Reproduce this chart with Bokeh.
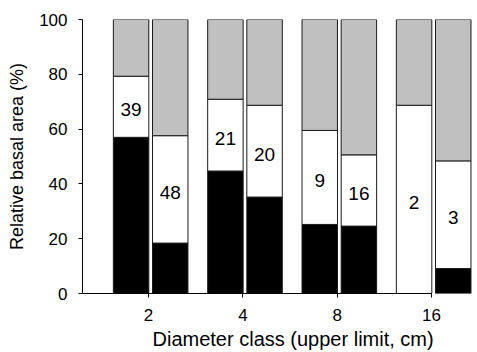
from bokeh.plotting import figure
from bokeh.models import Range1d, ColumnDataSource, FixedTicker, Title
from bokeh.embed import file_html
from bokeh.resources import INLINE
from bokeh.core.properties import value

# Diameter classes (upper limit, cm)
classes = ["2", "4", "8", "16"]

# Two stacked bars per class: black (bottom), white (middle), grey (rest to 100 %)
black_a = [57.0, 44.7, 25.2, 0.0]
white_a = [22.3, 26.2, 34.3, 68.7]
black_b = [18.4, 35.2, 24.6, 9.1]
white_b = [39.2, 33.5, 26.0, 39.3]

# Numbers printed inside the white segments
labels_a = ["39", "21", "9", "2"]
labels_b = ["48", "20", "16", "3"]

FONT = "Liberation Sans"
BAR_W = 0.376
OFF_A = -0.185
OFF_B = 0.230

p = figure(width=477, height=352, output_backend="svg", toolbar_location=None,
           x_range=Range1d(-0.70, 3.466), y_range=Range1d(0, 100),
           min_border_left=82, min_border_right=2, min_border_top=19,
           min_border_bottom=59)
p.outline_line_color = None
p.xgrid.visible = False
p.ygrid.visible = False
p.background_fill_color = "white"
p.border_fill_color = "white"

xs = list(range(len(classes)))

def add_bars(offset, black, white, labels):
    x = [i + offset for i in xs]
    b_top = black
    w_top = [b + w for b, w in zip(black, white)]
    src_black = ColumnDataSource(dict(x=x, bottom=[0] * len(x), top=b_top))
    src_white = ColumnDataSource(dict(x=x, bottom=b_top, top=w_top))
    src_grey = ColumnDataSource(dict(x=x, bottom=w_top, top=[100] * len(x)))
    for src, col in ((src_black, "black"), (src_white, "white"), (src_grey, "#c0c0c0")):
        p.vbar(x="x", bottom="bottom", top="top", width=BAR_W, source=src,
               fill_color=col, line_color="#1a1a1a", line_width=1)
    mid = [(b + t) / 2 for b, t in zip(b_top, w_top)]
    p.text(x=x, y=mid, text=labels, text_align="center", text_baseline="middle",
           y_offset=3, text_font=value(FONT), text_font_size="19px",
           text_color="black")

add_bars(OFF_A, black_a, white_a, labels_a)
add_bars(OFF_B, black_b, white_b, labels_b)

# x axis
xa = p.xaxis[0]
xa.ticker = FixedTicker(ticks=xs)
xa.major_label_overrides = {i: c for i, c in zip(xs, classes)}
xa.minor_tick_line_color = None
xa.bounds = (-0.70, 3)
xa.major_tick_out = 4
xa.major_tick_in = 0
xa.major_label_standoff = 11

# x axis title, set below the tick labels
p.add_layout(Title(text="Diameter class (upper limit, cm)", align="left",
                   offset=70, standoff=4, text_font=FONT, text_font_size="20px",
                   text_font_style="normal", text_color="black"), "below")

# y axis
ya = p.yaxis[0]
ya.ticker = FixedTicker(ticks=[0, 20, 40, 60, 80, 100])
ya.minor_tick_line_color = None
ya.bounds = (0, 100)
ya.axis_label = "Relative basal area (%)"
ya.major_tick_out = 4
ya.major_tick_in = 0
ya.major_label_standoff = 11
ya.axis_label_standoff = 9
ya.axis_label_text_font_size = "18px"

for ax in (xa, ya):
    ax.axis_line_color = "black"
    ax.major_tick_line_color = "black"
    ax.major_label_text_font = FONT
    ax.major_label_text_font_size = "17px"
    ax.major_label_text_color = "black"
    ax.axis_label_text_font = FONT
    ax.axis_label_text_font_style = "normal"
    ax.axis_label_text_color = "black"

open("out.html", "w").write(file_html(p, INLINE))
